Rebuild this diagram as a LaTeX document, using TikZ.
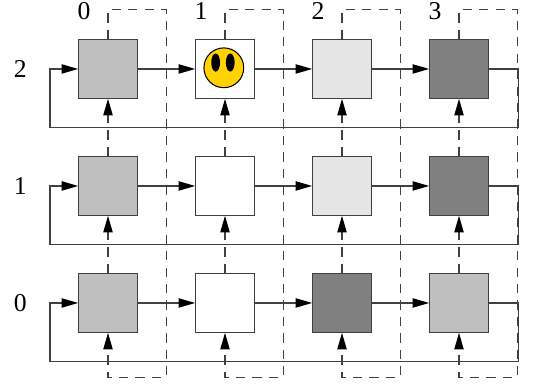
\documentclass[tikz,border=0pt]{standalone}
\usepackage{fontspec}
\setmainfont{Liberation Serif}
\usetikzlibrary{arrows.meta}
\pgfdeclarelayer{edgelayer}
\pgfdeclarelayer{nodelayer}
\pgfsetlayers{edgelayer,nodelayer,main}
\definecolor{linegray}{gray}{0.25}
\definecolor{facefill}{RGB}{255,210,0}
\tikzstyle{cell}=[rectangle, draw=black!75, line width=0.6pt, minimum size=1cm, inner sep=0pt]
\tikzstyle{index}=[font=\fontsize{12.5}{14}\selectfont, inner sep=0pt]
\tikzstyle{edge}=[draw=linegray, line width=0.6pt, -{Triangle[length=8pt,width=4.5pt,color=black]}]
\tikzstyle{dashededge}=[edge, dash pattern=on 4.5pt off 3.5pt]

\begin{document}
\begin{tikzpicture}
	\useasboundingbox (-1.846,-1.368) rectangle (7.316,5.179);
	\begin{pgfonlayer}{nodelayer}

	%row 2
		\node [style=cell, fill=black!25] (02) at (0,4) {};
		\node [style=cell, fill=white] (12) at (2,4) {};
		\node [style=cell, fill=black!10] (22) at (4,4) {};
		\node [style=cell, fill=black!50] (32) at (6,4) {};
	%row 1
		\node [style=cell, fill=black!25] (01) at (0,2) {};
		\node [style=cell, fill=white] (11) at (2,2) {};
		\node [style=cell, fill=black!10] (21) at (4,2) {};
		\node [style=cell, fill=black!50] (31) at (6,2) {};
	%row 0
		\node [style=cell, fill=black!25] (00) at (0,0) {};
		\node [style=cell, fill=white] (10) at (2,0) {};
		\node [style=cell, fill=black!50] (20) at (4,0) {};
		\node [style=cell, fill=black!25] (30) at (6,0) {};

	%indices
		\node [style=index] (x0) at (-0.41,4.99) {0};
		\node [style=index] (x1) at (1.59,4.99) {1};
		\node [style=index] (x2) at (3.59,4.99) {2};
		\node [style=index] (x3) at (5.59,4.99) {3};
		\node [style=index] (y2) at (-1.5,4) {2};
		\node [style=index] (y1) at (-1.5,2) {1};
		\node [style=index] (y0) at (-1.5,0) {0};

	\end{pgfonlayer}
	\begin{pgfonlayer}{edgelayer}

		%rows
		\draw [style=edge] (02) to (12);
		\draw [style=edge] (12) to (22);
		\draw [style=edge] (22) to (32);
		\draw [style=edge] (32.east) -- ++(0.5,0) -- ++(0,-1) -- ++(-8,0) -- ++(0,1) -- (02.west);
		\draw [style=edge] (01) to (11);
		\draw [style=edge] (11) to (21);
		\draw [style=edge] (21) to (31);
		\draw [style=edge] (31.east) -- ++(0.5,0) -- ++(0,-1) -- ++(-8,0) -- ++(0,1) -- (01.west);
		\draw [style=edge] (00) to (10);
		\draw [style=edge] (10) to (20);
		\draw [style=edge] (20) to (30);
		\draw [style=edge] (30.east) -- ++(0.5,0) -- ++(0,-1) -- ++(-8,0) -- ++(0,1) -- (00.west);

		%columns
		\draw [style=dashededge] (00) to (01);
		\draw [style=dashededge] (01) to (02);
		\draw [style=dashededge] (02.north) -- ++(0,0.5) -- ++(1,0) -- ++(0,-6.28) -- ++(-1,0) -- (00.south);
		\draw [style=dashededge] (10) to (11);
		\draw [style=dashededge] (11) to (12);
		\draw [style=dashededge] (12.north) -- ++(0,0.5) -- ++(1,0) -- ++(0,-6.28) -- ++(-1,0) -- (10.south);
		\draw [style=dashededge] (20) to (21);
		\draw [style=dashededge] (21) to (22);
		\draw [style=dashededge] (22.north) -- ++(0,0.5) -- ++(1,0) -- ++(0,-6.28) -- ++(-1,0) -- (20.south);
		\draw [style=dashededge] (30) to (31);
		\draw [style=dashededge] (31) to (32);
		\draw [style=dashededge] (32.north) -- ++(0,0.5) -- ++(1,0) -- ++(0,-6.28) -- ++(-1,0) -- (30.south);

	\end{pgfonlayer}

	%smiley
	\node [circle, fill=facefill, draw=black, line width=0.5pt, minimum size=0.68cm, inner sep=0pt] (face) at (1.98,4.02) {};
	\fill (1.84,4.11) ellipse (0.075 and 0.155);
	\fill (2.09,4.11) ellipse (0.075 and 0.155);
\end{tikzpicture}
\end{document}
